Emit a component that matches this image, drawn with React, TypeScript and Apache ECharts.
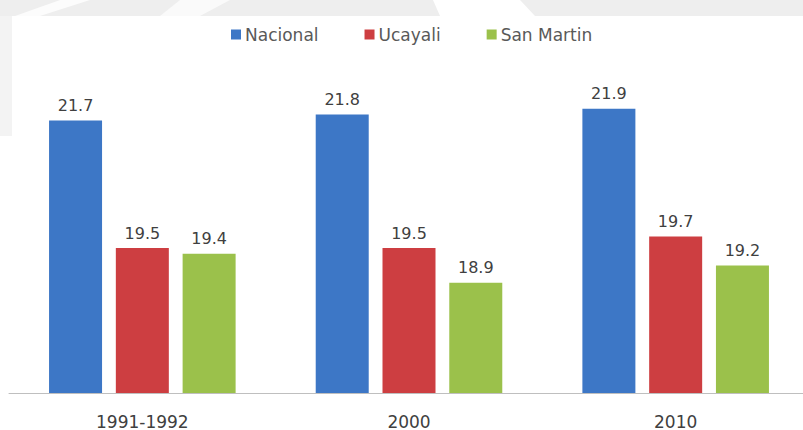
import React, { useEffect, useRef } from "react";
import * as echarts from "echarts";

const categories = ["1991-1992", "2000", "2010"];
const nacional = [21.7, 21.8, 21.9];
const ucayali = [19.5, 19.5, 19.7];
const sanMartin = [19.4, 18.9, 19.2];
const seriesNames = ["Nacional", "Ucayali", "San Martin"];
const seriesColors = ["#3D77C6", "#CD3E41", "#9BC14B"];

const FONT = "'DejaVu Sans', sans-serif";

export default function App() {
  const ref = useRef<HTMLDivElement>(null);
  useEffect(() => {
    if (!ref.current) return;
    const chart = echarts.init(ref.current, null, { renderer: "svg" });
    const values = [nacional, ucayali, sanMartin];
    chart.setOption({
      animation: false,
      backgroundColor: "#ffffff",
      textStyle: { fontFamily: FONT },
      graphic: [
        { type: "rect", z: -10, shape: { x: 0, y: 0, width: 812, height: 16 }, style: { fill: "#eeeeee" } },
        { type: "polygon", z: -9, shape: { points: [[60, 0], [90, 0], [40, 16], [15, 16]] }, style: { fill: "#ffffff", opacity: 0.8 } },
        { type: "polygon", z: -9, shape: { points: [[180, 0], [230, 0], [200, 16], [160, 16]] }, style: { fill: "#ffffff", opacity: 0.7 } },
        { type: "polygon", z: -9, shape: { points: [[433, 0], [520, 0], [535, 16], [440, 16]] }, style: { fill: "#ffffff" } },
        { type: "rect", z: -10, shape: { x: 0, y: 16, width: 12, height: 120 }, style: { fill: "#f3f3f3" } },
      ],
      legend: {
        top: 26,
        left: 231,
        padding: 0,
        itemWidth: 10,
        itemHeight: 10,
        itemGap: 46,
        icon: "rect",
        textStyle: { fontSize: 17, color: "#595959", fontFamily: FONT, padding: [0, 0, 0, -1] },
        data: seriesNames,
      },
      grid: { left: 9, width: 800, top: 74, height: 319, containLabel: false },
      xAxis: {
        type: "category",
        data: categories,
        axisLine: { lineStyle: { color: "#bfbfbf", width: 1 } },
        axisTick: { show: false },
        axisLabel: { fontSize: 17, color: "#404040", margin: 20, fontFamily: FONT },
      },
      yAxis: {
        type: "value",
        min: 17,
        max: 22.5,
        show: false,
        splitLine: { show: false },
      },
      series: seriesNames.map((name, i) => ({
        name,
        type: "bar",
        data: values[i],
        barWidth: 53,
        barGap: "26%",
        itemStyle: { color: seriesColors[i] },
        label: {
          show: true,
          position: "top",
          distance: 7,
          fontSize: 16,
          color: "#404040",
          fontFamily: FONT,
          formatter: (p: any) => p.value.toFixed(1),
        },
      })),
    });
    return () => chart.dispose();
  }, []);
  return (
    <div
      ref={ref}
      style={{ position: "fixed", left: 0, top: 0, width: 812, height: 430 }}
    />
  );
}
